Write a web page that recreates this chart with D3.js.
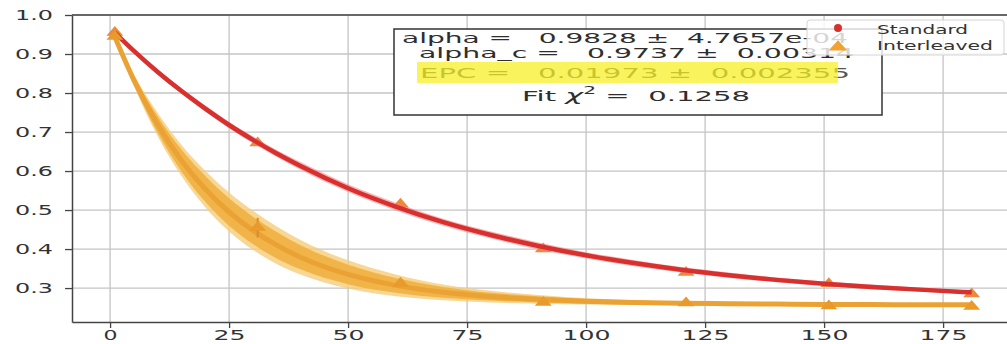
<!DOCTYPE html>
<html>
<head>
<meta charset="utf-8">
<script src="https://cdn.jsdelivr.net/npm/d3@7"></script>
<style>
  body { margin: 0; background: #fff; }
  text { font-family: "DejaVu Sans", sans-serif; white-space: pre; }
</style>
</head>
<body>
<svg id="chart" width="1007" height="344"></svg>
<script>
// measured points (Clifford lengths)
const benchX = [1, 31, 61, 91, 121, 151, 181];
const stdMean = [0.955, 0.672, 0.515, 0.400, 0.340, 0.311, 0.285];
const stdErr = [0.004, 0.008, 0.006, 0.005, 0.004, 0.004, 0.004];
const intMean = [0.945, 0.455, 0.312, 0.263, 0.262, 0.254, 0.253];
const intErr = [0.005, 0.025, 0.008, 0.005, 0.004, 0.004, 0.004];

// fitted curves
const fitX = [1, 5, 10, 15, 20, 25, 30, 35, 40, 50, 60, 70, 80, 90, 100, 110, 120, 130, 140, 150, 160, 170, 181];
const stdFit = [0.955, 0.908, 0.854, 0.805, 0.760, 0.718, 0.680, 0.645, 0.613, 0.556, 0.509, 0.469, 0.436, 0.408, 0.384, 0.364, 0.347, 0.333, 0.321, 0.311, 0.303, 0.296, 0.289];
const stdBand = [0.004, 0.005, 0.006, 0.007, 0.008, 0.008, 0.009, 0.009, 0.010, 0.010, 0.010, 0.009, 0.009, 0.009, 0.008, 0.008, 0.007, 0.007, 0.006, 0.006, 0.006, 0.005, 0.005];
const intFit = [0.944, 0.833, 0.719, 0.627, 0.554, 0.495, 0.448, 0.410, 0.379, 0.335, 0.307, 0.289, 0.278, 0.271, 0.266, 0.263, 0.261, 0.260, 0.259, 0.258, 0.258, 0.257, 0.257];
const intOuter = [0.005, 0.015, 0.030, 0.040, 0.047, 0.050, 0.050, 0.048, 0.044, 0.036, 0.028, 0.020, 0.015, 0.011, 0.008, 0.006, 0.005, 0.005, 0.004, 0.004, 0.004, 0.004, 0.004];
const intInner = [0.004, 0.011, 0.021, 0.028, 0.033, 0.035, 0.035, 0.034, 0.031, 0.025, 0.019, 0.014, 0.010, 0.008, 0.006, 0.005, 0.004, 0.004, 0.003, 0.003, 0.003, 0.003, 0.003];

const xTicks = [0, 25, 50, 75, 100, 125, 150, 175];
const yTicks = [0.3, 0.4, 0.5, 0.6, 0.7, 0.8, 0.9, 1.0];

const fitLines = [
  'alpha =   0.9828 \u00b1  4.7657e-04',
  ' alpha_c =   0.9737 \u00b1  0.00314',
  'EPC =   0.01973 \u00b1  0.002355'
];
const chiValue = '0.1258';
const legendNames = ['Standard', 'Interleaved'];

const svg = d3.select('#chart');
const pLeft = 72, pRight = 1007, pTop = 15, pBottom = 322;

const x = d3.scaleLinear().domain([-8, 190]).range([pLeft, 1014.5]);
const y = d3.scaleLinear().domain([0.213, 1.0]).range([pBottom, pTop]);

/* clip */
svg.append('clipPath').attr('id', 'plot')
  .append('rect').attr('x', pLeft).attr('y', pTop)
  .attr('width', pRight - pLeft).attr('height', pBottom - pTop);

/* grid */
const grid = svg.append('g').attr('stroke', '#c4c4c4').attr('stroke-width', 1.3);
grid.selectAll('.gx').data(xTicks).join('line')
  .attr('x1', d => x(d)).attr('x2', d => x(d))
  .attr('y1', pTop).attr('y2', pBottom);
grid.selectAll('.gy').data(yTicks).join('line')
  .attr('x1', pLeft).attr('x2', pRight)
  .attr('y1', d => y(d)).attr('y2', d => y(d));

/* curves */
const rows = fitX.map((v, i) => ({
  x: v, s: stdFit[i], sw: stdBand[i], n: intFit[i], no: intOuter[i], ni: intInner[i]
}));

const plot = svg.append('g').attr('clip-path', 'url(#plot)');

const band = (c, w) => d3.area()
  .x(d => x(d.x))
  .y0(d => y(d[c] - d[w]))
  .y1(d => y(d[c] + d[w]))
  .curve(d3.curveMonotoneX);
const line = c => d3.line()
  .x(d => x(d.x))
  .y(d => y(d[c]))
  .curve(d3.curveMonotoneX);

plot.append('path').attr('d', band('n', 'no')(rows))
  .attr('fill', '#f6cc78').attr('opacity', 0.8);
plot.append('path').attr('d', band('n', 'ni')(rows))
  .attr('fill', '#f0b040').attr('opacity', 0.9);
plot.append('path').attr('d', line('n')(rows))
  .attr('fill', 'none').attr('stroke', '#eba234').attr('stroke-width', 5);

// standard markers sit under the red line
const tri = d3.symbol(d3.symbolTriangle).size(55);
const stdPts = benchX.map((v, i) => ({ x: v, m: stdMean[i], e: stdErr[i] }));
const intPts = benchX.map((v, i) => ({ x: v, m: intMean[i], e: intErr[i] }));

plot.selectAll('.se').data(stdPts).join('line')
  .attr('x1', d => x(d.x)).attr('x2', d => x(d.x))
  .attr('y1', d => y(d.m - d.e)).attr('y2', d => y(d.m + d.e))
  .attr('stroke', '#e2683a').attr('stroke-width', 2);
plot.selectAll('.sm').data(stdPts).join('path')
  .attr('d', tri)
  .attr('transform', d => `translate(${x(d.x)},${y(d.m)}) scale(1.5,1)`)
  .attr('fill', '#ec8a3c');

plot.append('path').attr('d', band('s', 'sw')(rows))
  .attr('fill', '#f27a7a').attr('opacity', 0.55);
plot.append('path').attr('d', line('s')(rows))
  .attr('fill', 'none').attr('stroke', '#d8302f').attr('stroke-width', 4.5);

plot.selectAll('.ie').data(intPts).join('line')
  .attr('x1', d => x(d.x)).attr('x2', d => x(d.x))
  .attr('y1', d => y(d.m - d.e)).attr('y2', d => y(d.m + d.e))
  .attr('stroke', '#d98a2a').attr('stroke-width', 2);
plot.selectAll('.im').data(intPts).join('path')
  .attr('d', tri)
  .attr('transform', d => `translate(${x(d.x)},${y(d.m)}) scale(1.5,1)`)
  .attr('fill', '#e89a2c');

/* axes */
const xAxis = svg.append('g')
  .attr('transform', `translate(0,${pBottom})`)
  .call(d3.axisBottom(x).tickValues(xTicks).tickSize(6).tickSizeOuter(0).tickPadding(2));
xAxis.selectAll('text')
  .attr('font-size', 14.5)
  .attr('textLength', d => String(d).length === 1 ? 14 : 16 * String(d).length)
  .attr('lengthAdjust', 'spacingAndGlyphs');

const yAxis = svg.append('g')
  .attr('transform', `translate(${pLeft},0)`)
  .call(d3.axisLeft(y).tickValues(yTicks).tickFormat(d3.format('.1f'))
    .tickSize(7).tickSizeOuter(0).tickPadding(12));
yAxis.selectAll('text')
  .attr('font-size', 13.5)
  .attr('textLength', 38)
  .attr('lengthAdjust', 'spacingAndGlyphs');

[xAxis, yAxis].forEach(a => {
  a.select('.domain').attr('stroke', '#444').attr('stroke-width', 1.5);
  a.selectAll('.tick line').attr('stroke', '#444').attr('stroke-width', 1.3);
  a.selectAll('text').attr('fill', '#333').attr('font-family', '"DejaVu Sans", sans-serif');
});
svg.append('line')
  .attr('x1', pLeft).attr('x2', pRight).attr('y1', pTop).attr('y2', pTop)
  .attr('stroke', '#444').attr('stroke-width', 1.5);

/* fit text box */
const box = svg.append('g');
box.append('rect')
  .attr('x', 394).attr('y', 29).attr('width', 488).attr('height', 86)
  .attr('fill', '#fff').attr('stroke', '#333').attr('stroke-width', 1.5);

const lineSpec = [
  { x: 402, y: 43, len: 446 },
  { x: 410, y: 58, len: 444 },
  { x: 420, y: 78, len: 430 }
];
fitLines.forEach((t, i) => {
  box.append('text')
    .attr('x', lineSpec[i].x).attr('y', lineSpec[i].y)
    .attr('font-size', 14.5).attr('fill', i === 2 ? '#555' : '#2e2e2e')
    .attr('textLength', lineSpec[i].len).attr('lengthAdjust', 'spacingAndGlyphs')
    .text(t);
});
box.append('rect')
  .attr('x', 417).attr('y', 62).attr('width', 421).attr('height', 21)
  .attr('fill', '#f6f020').attr('opacity', 0.72);

const chi = box.append('text')
  .attr('x', 522).attr('y', 101)
  .attr('font-size', 14.5).attr('fill', '#2e2e2e')
  .attr('textLength', 228).attr('lengthAdjust', 'spacingAndGlyphs');
chi.append('tspan').text('Fit ');
chi.append('tspan').attr('font-style', 'italic').attr('font-size', 15).text('\u03c7');
chi.append('tspan').attr('font-size', 10).attr('dy', -7).text('2');
chi.append('tspan').attr('dy', 7).text(' =  ' + chiValue);

/* legend */
const legend = svg.append('g');
legend.append('rect')
  .attr('x', 807).attr('y', 20).attr('width', 197).attr('height', 35).attr('rx', 3)
  .attr('fill', '#fff').attr('fill-opacity', 0.8)
  .attr('stroke', '#d4d4d4').attr('stroke-width', 1);
legend.append('circle')
  .attr('cx', 838).attr('cy', 28).attr('r', 4).attr('fill', '#d8302f');
legend.append('path')
  .attr('d', d3.symbol(d3.symbolTriangle).size(60)())
  .attr('transform', 'translate(838,47) scale(1.6,1)')
  .attr('fill', '#f0a232');
legend.selectAll('.lt').data(legendNames).join('text')
  .attr('x', 877).attr('y', (d, i) => 34 + i * 16)
  .attr('font-size', 12).attr('fill', '#333')
  .attr('textLength', (d, i) => i === 0 ? 91 : 116)
  .attr('lengthAdjust', 'spacingAndGlyphs')
  .text(d => d);
</script>
</body>
</html>
